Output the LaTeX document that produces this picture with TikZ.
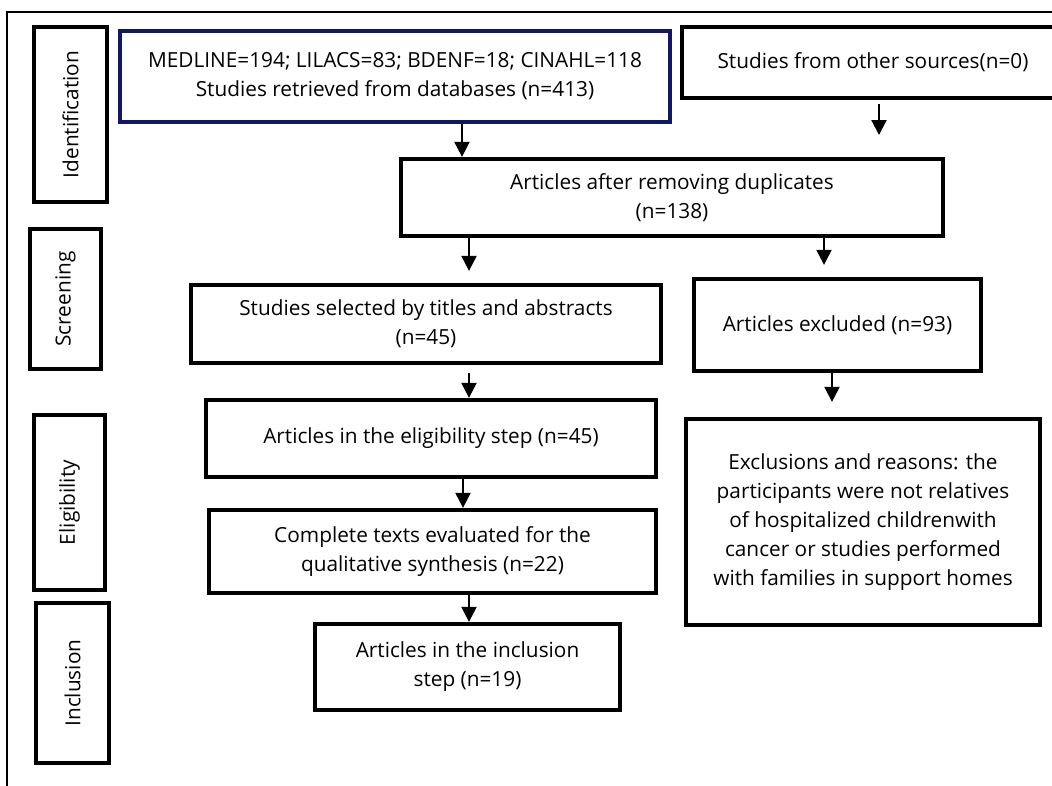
\documentclass[tikz,border=0pt]{standalone}
\usepackage{fontspec}
\setmainfont{Open Sans}
\usetikzlibrary{arrows.meta}
\definecolor{navyblue}{RGB}{16,24,100}
\begin{document}
\begin{tikzpicture}[x=1pt,y=-1pt,
  box/.style={draw,line width=4.3pt,align=center,inner sep=0pt,font=\fontsize{20.8}{29}\selectfont},
  side/.style={box,rotate=90},
  arr/.style={line width=2.2pt,-{Triangle[width=15pt,length=15pt]}},
  frame/.style={line width=1.6pt}]
\useasboundingbox (0,0) rectangle (1052,785);
\draw[frame] (7,800) -- (7,12) -- (1070,12);

% side labels
\node[side,minimum width=175pt,minimum height=73pt] (ident) at (70.5,114.5) {Identification};
\node[side,minimum width=140pt,minimum height=71pt] (screen) at (65.5,299) {Screening};
\node[side,minimum width=175pt,minimum height=71pt] (elig) at (69.5,502.5) {Eligibility};
\node[side,minimum width=160pt,minimum height=73pt] (incl) at (72.5,683) {Inclusion};

% main boxes
\node[box,draw=navyblue,minimum width=550pt,minimum height=91pt] (db) at (395,76.5)
  {MEDLINE=194; LILACS=83; BDENF=18; CINAHL=118\\Studies retrieved from databases (n=413)};
\node[box,minimum width=382pt,minimum height=71pt] (other) at (873,62.5)
  {Studies from other sources(n=0)};
\node[box,minimum width=542pt,minimum height=77pt] (dup) at (672,197.5)
  {Articles after removing duplicates\\(n=138)};
\node[box,minimum width=470pt,minimum height=78pt] (sel) at (426,324)
  {Studies selected by titles and abstracts\\(n=45)};
\node[box,minimum width=287pt,minimum height=92pt] (excl) at (837.5,325)
  {Articles excluded (n=93)};
\node[box,minimum width=450pt,minimum height=77pt] (estep) at (431,438.5)
  {Articles in the eligibility step (n=45)};
\node[box,minimum width=447pt,minimum height=83pt] (comp) at (432.5,551.5)
  {Complete texts evaluated for the\\qualitative synthesis (n=22)};
\node[box,minimum width=305pt,minimum height=86pt] (istep) at (467.5,667)
  {Articles in the inclusion\\step (n=19)};
\node[box,minimum width=354pt,minimum height=206pt] (reas) at (863,522)
  {Exclusions and reasons: the\\participants were not relatives\\of hospitalized childrenwith\\cancer or studies performed\\with families in support homes};

% arrow columns
\coordinate (c1) at (462,0);
\coordinate (e2) at (879,135);
\coordinate (c3) at (469,0);
\coordinate (c4) at (824,0);
\coordinate (c6) at (832,0);
\coordinate (c7) at (463,0);

\draw[arr] (db.south -| c1) -- (dup.north -| c1);
\draw[arr,shorten <=4pt] (other.south -| e2) -- (e2);
\draw[arr,shorten >=12pt] (dup.south -| c3) -- (sel.north -| c3);
\draw[arr,shorten >=12pt] (dup.south -| c4) -- (excl.north -| c4);
\draw[arr,shorten <=8pt] (sel.south -| c3) -- (estep.north -| c3);
\draw[arr,shorten <=-3pt,shorten >=15pt] (excl.south -| c6) -- (reas.north -| c6);
\draw[arr] (estep.south -| c7) -- (comp.north -| c7);
\draw[arr] (comp.south -| c3) -- (istep.north -| c3);
\end{tikzpicture}
\end{document}
